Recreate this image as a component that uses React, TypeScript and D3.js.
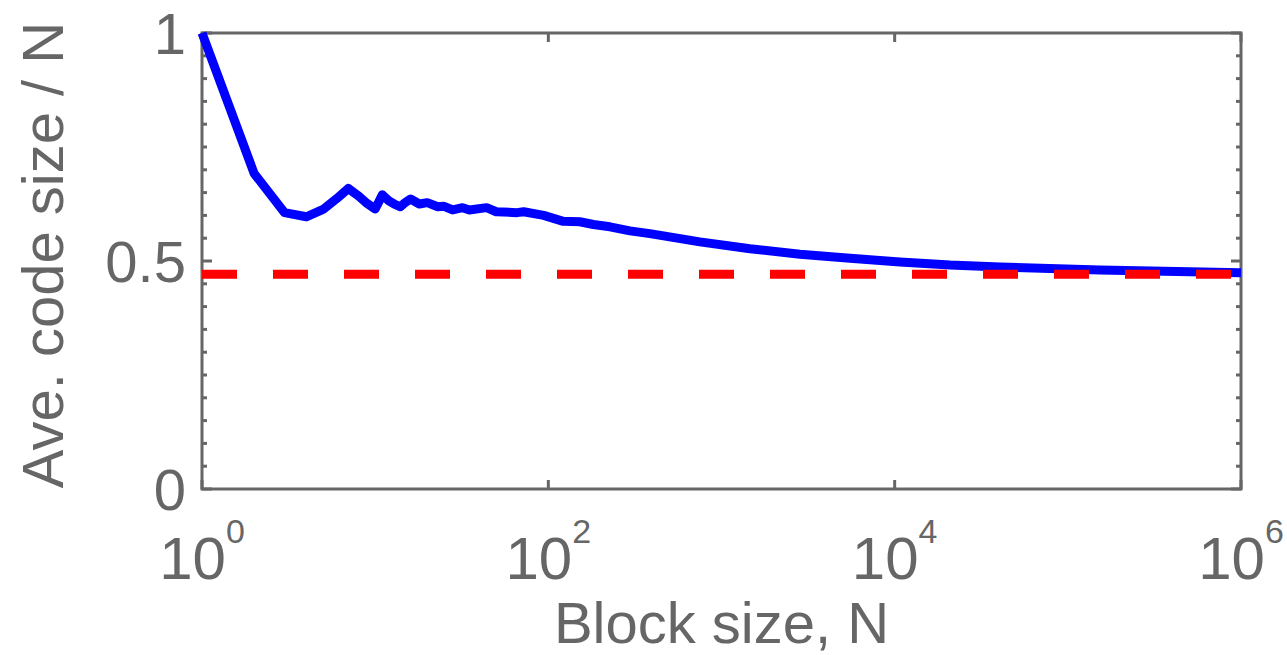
import React, { useRef, useEffect } from 'react';
import * as d3 from 'd3';

// block size N and average code size / N
const blockSizes = [1, 2, 3, 4, 5, 6, 7, 8, 9, 10, 11, 12, 13, 14, 15, 16, 18, 20, 23, 25, 28, 32, 35, 44, 50, 66, 72, 94, 122, 152, 182, 227, 296, 386, 750, 1460, 2840, 5520, 10740, 20860, 40600, 153000, 1000000];
const codeSizes = [1.0, 0.692, 0.606, 0.597, 0.613, 0.637, 0.659, 0.643, 0.626, 0.614, 0.645, 0.632, 0.624, 0.619, 0.629, 0.636, 0.625, 0.628, 0.619, 0.620, 0.612, 0.617, 0.612, 0.617, 0.608, 0.606, 0.608, 0.600, 0.587, 0.586, 0.580, 0.575, 0.566, 0.560, 0.542, 0.527, 0.515, 0.506, 0.498, 0.491, 0.487, 0.480, 0.474];
const entropyLimit = 0.471;

const xTicks = [1, 100, 10000, 1000000];
const xTickExp = ['0', '2', '4', '6'];
const yTicks = [0, 0.5, 1];
const yTickLabels = ['0', '0.5', '1'];
const yMinorTicks = d3.range(0, 21).map((i) => i * 0.05);

export default function App() {
    const ref = useRef<SVGSVGElement>(null);

    useEffect(() => {
        const svg = d3.select(ref.current);
        svg.selectAll('*').remove();

        const left = 202, right = 1241, top = 33, bottom = 489;
        const grey = '#666666';
        const font = '"Liberation Sans", Arial, Helvetica, sans-serif';

        const x = d3.scaleLog().domain([1, 1e6]).range([left, right]);
        const y = d3.scaleLinear().domain([0, 1]).range([bottom, top]);

        const g = svg.append('g');

        // y ticks every 0.05 (left and right), longer at labelled values
        yMinorTicks.forEach((v) => {
            const major = yTicks.some((t) => Math.abs(t - v) < 1e-9);
            const len = major ? 10 : 5;
            g.append('line')
                .attr('x1', left).attr('x2', left + len)
                .attr('y1', y(v)).attr('y2', y(v))
                .attr('stroke', grey).attr('stroke-width', 3);
            g.append('line')
                .attr('x1', right).attr('x2', right - len)
                .attr('y1', y(v)).attr('y2', y(v))
                .attr('stroke', grey).attr('stroke-width', 3);
        });

        // x ticks (bottom and top)
        xTicks.forEach((t) => {
            g.append('line')
                .attr('x1', x(t)).attr('x2', x(t))
                .attr('y1', bottom).attr('y2', bottom - 9)
                .attr('stroke', grey).attr('stroke-width', 3);
            g.append('line')
                .attr('x1', x(t)).attr('x2', x(t))
                .attr('y1', top).attr('y2', top + 9)
                .attr('stroke', grey).attr('stroke-width', 3);
        });

        // box
        g.append('rect')
            .attr('x', left).attr('y', top)
            .attr('width', right - left).attr('height', bottom - top)
            .attr('fill', 'none').attr('stroke', grey).attr('stroke-width', 3);

        // data line
        const line = d3.line<number>()
            .x((d, i) => x(blockSizes[i]))
            .y((d) => y(d));

        g.append('path')
            .datum(codeSizes)
            .attr('d', line)
            .attr('fill', 'none')
            .attr('stroke', '#0000ff')
            .attr('stroke-width', 9)
            .attr('stroke-linejoin', 'round');

        // limit line
        g.append('line')
            .attr('x1', x(1)).attr('x2', x(1e6))
            .attr('y1', y(entropyLimit)).attr('y2', y(entropyLimit))
            .attr('stroke', '#ff0000')
            .attr('stroke-width', 9)
            .attr('stroke-dasharray', '35 36');

        // y tick labels
        yTicks.forEach((t, i) => {
            g.append('text')
                .attr('x', 186).attr('y', y(t) + 21)
                .attr('text-anchor', 'end')
                .attr('font-family', font).attr('font-size', 58)
                .attr('fill', grey)
                .text(yTickLabels[i]);
        });

        // x tick labels
        xTicks.forEach((t, i) => {
            const txt = g.append('text')
                .attr('x', x(t)).attr('y', 579)
                .attr('text-anchor', 'middle')
                .attr('font-family', font)
                .attr('fill', grey);
            txt.append('tspan').attr('font-size', 60).text('10');
            txt.append('tspan').attr('font-size', 34).attr('dy', -36).text(xTickExp[i]);
        });

        // axis labels
        g.append('text')
            .attr('x', (left + right) / 2).attr('y', 643)
            .attr('text-anchor', 'middle')
            .attr('font-family', font).attr('font-size', 58)
            .attr('fill', grey)
            .text('Block size, N');

        g.append('text')
            .attr('transform', 'translate(63,255) rotate(-90)')
            .attr('text-anchor', 'middle')
            .attr('font-family', font).attr('font-size', 58)
            .attr('fill', grey)
            .text('Ave. code size / N');
    }, []);

    return (
        <svg ref={ref} width={1287} height={655}
            style={{ position: 'absolute', left: 0, top: 0, background: '#fff' }} />
    );
}
